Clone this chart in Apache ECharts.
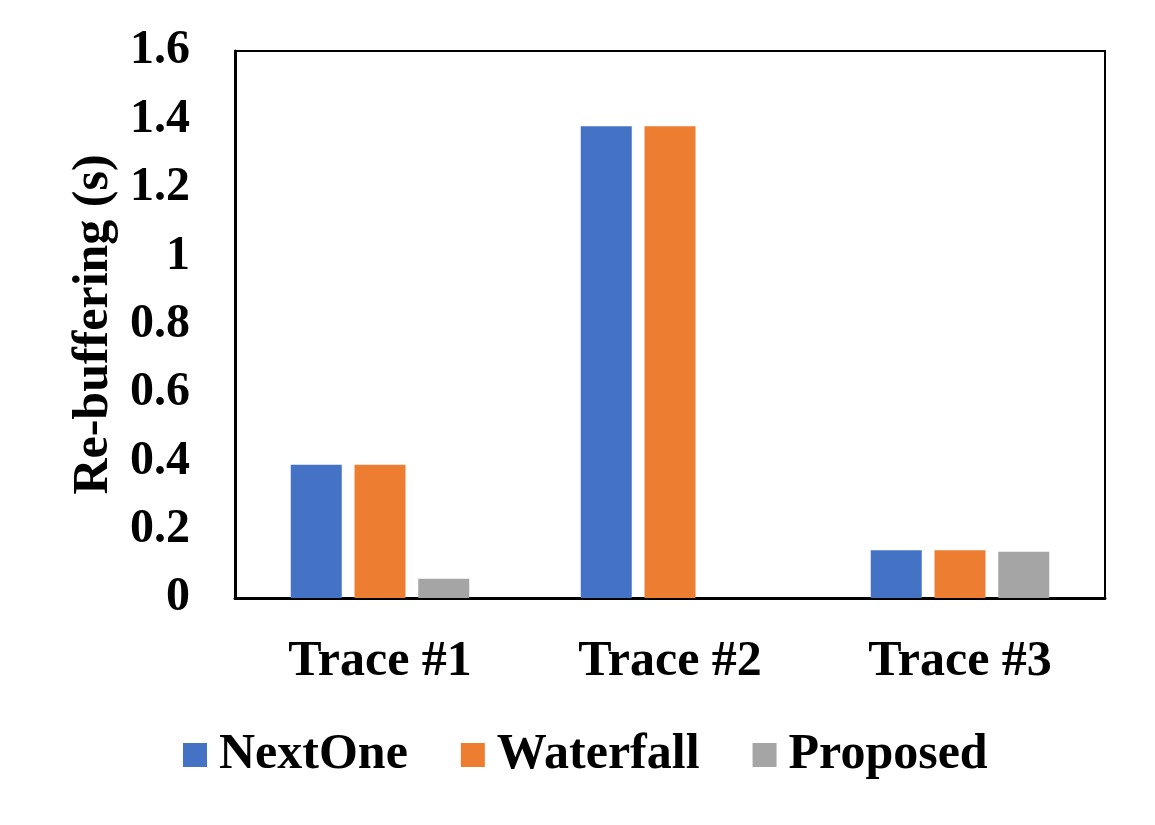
<!DOCTYPE html>
<html><head><meta charset="utf-8">
<script src="https://cdn.jsdelivr.net/npm/echarts@6/dist/echarts.min.js"></script>
<style>html,body{margin:0;padding:0;background:#fff}#c{width:1155px;height:825px}</style>
</head><body><div id="c"></div>
<script>
var categories = ['Trace #1', 'Trace #2', 'Trace #3'];
var nextOne = [0.39, 1.38, 0.14];
var waterfall = [0.39, 1.38, 0.14];
var proposed = [0.056, 0, 0.135];
var yTicks = [0, 0.2, 0.4, 0.6, 0.8, 1, 1.2, 1.4, 1.6];
var seriesNames = ['NextOne', 'Waterfall', 'Proposed'];
var colors = ['#4472C4', '#ED7D31', '#A5A5A5'];

var font = 'Liberation Serif';
var chart = echarts.init(document.getElementById('c'));
chart.setOption({
  animation: false,
  color: colors,
  textStyle: {fontFamily: font, fontWeight: 'bold', color: '#000'},
  grid: {left: 235, right: 50, top: 51, bottom: 227, show: true, borderColor: '#000', borderWidth: 2, backgroundColor: 'transparent'},
  legend: {
    bottom: 40, left: 178, itemWidth: 24, itemHeight: 24, itemGap: 53,
    textStyle: {fontFamily: font, fontWeight: 'bold', fontSize: 50, color: '#000', padding: [0, 0, 0, 7]},
    icon: 'rect',
    data: seriesNames
  },
  xAxis: {
    type: 'category', data: categories,
    axisLine: {lineStyle: {color: '#000', width: 3}},
    axisTick: {show: false},
    axisLabel: {fontFamily: font, fontWeight: 'bold', fontSize: 50, color: '#000', margin: 39}
  },
  yAxis: {
    type: 'value', min: 0, max: 1.6, interval: 0.2,
    name: 'Re-buffering (s)', nameLocation: 'middle', nameGap: 116,
    nameTextStyle: {fontFamily: font, fontWeight: 'bold', fontSize: 50, color: '#000'},
    axisLine: {show: true, lineStyle: {color: '#000', width: 3}},
    axisTick: {show: false},
    splitLine: {show: false},
    axisLabel: {fontFamily: font, fontWeight: 'bold', fontSize: 48, color: '#000', margin: 45,
      formatter: function (v) { var r = Math.round(v*10)/10; return yTicks.indexOf(r) >= 0 ? String(r) : ''; }}
  },
  series: [
    {name: seriesNames[0], type: 'bar', data: nextOne, barWidth: 51, barGap: '25%'},
    {name: seriesNames[1], type: 'bar', data: waterfall, barWidth: 51, barGap: '25%'},
    {name: seriesNames[2], type: 'bar', data: proposed, barWidth: 51, barGap: '25%'}
  ]
});
</script></body></html>
